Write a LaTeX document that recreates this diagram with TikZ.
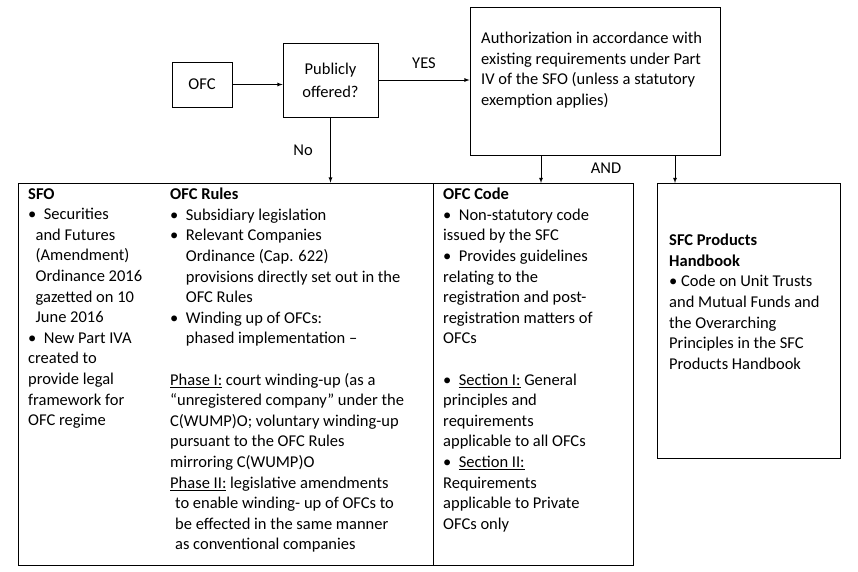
\documentclass[tikz,border=0pt]{standalone}
\usepackage{fontspec}
\setmainfont{Carlito}
\usetikzlibrary{positioning}
\tikzset{
  box/.style={draw,thick,align=center,inner sep=0pt},
  txt/.style={anchor=north west,align=left,inner sep=0pt,font=\fontsize{16.5}{20.6}\selectfont},
  lbl/.style={font=\fontsize{16.5}{20}\selectfont},
  arr/.style={thick,-latex}
}
\begin{document}
\begin{tikzpicture}[x=1pt,y=-1pt]
  \useasboundingbox (0,0) rectangle (858,571);
  \node[box,minimum width=60,minimum height=45,lbl] (ofc) at (202,84.5) {OFC};
  \node[box,minimum width=95,minimum height=74,font=\fontsize{16.5}{23}\selectfont] (pub) at (330.5,80) {Publicly\\offered?};
  \node[box,minimum width=250,minimum height=148] (auth) at (595,81) {};
  \node[txt] at (481,32) {Authorization in accordance with\\existing requirements under Part\\IV of the SFO (unless a statutory\\exemption applies)};
  \node[box,minimum width=615,minimum height=382] (main) at (325.5,374) {};
  \node[box,minimum width=183,minimum height=275] (sfc) at (748.5,320.5) {};
  \draw[thick] (433,183) -- (433,565);

  \draw[arr] (ofc.east) -- (pub.west |- ofc.east);
  \draw[arr] (pub.east) -- (auth.west |- pub.east) node[midway,above=8pt,lbl] {YES};
  \draw[arr] (pub.south) -- (pub.south |- main.north) node[midway,left=14pt,lbl] {No};
  \draw[arr] (541,155) -- (541,183);
  \draw[arr] (675,155) -- (675,183);
  \node[lbl] (and) at (606,168) {AND};

  \node[txt] (sfo) at (28,188) {\textbf{SFO}\\
    • \ Securities\\
    \ \ and Futures\\
    \ \ (Amendment)\\
    \ \ Ordinance 2016\\
    \ \ gazetted on 10\\
    \ \ June 2016\\
    • \ New Part IVA\\
    created to\\
    provide legal\\
    framework for\\
    OFC regime};
  \node[txt] (rules) at (170,188) {\textbf{OFC Rules}\\
    • \ Subsidiary legislation\\
    • \ Relevant Companies\\
    \hspace*{0.95em}Ordinance (Cap. 622)\\
    \hspace*{0.95em}provisions directly set out in the\\
    \hspace*{0.95em}OFC Rules\\
    • \ Winding up of OFCs:\\
    \hspace*{0.95em}phased implementation --\\[20.6pt]
    \underline{Phase I:} court winding-up (as a\\
    “unregistered company” under the\\
    C(WUMP)O; voluntary winding-up\\
    pursuant to the OFC Rules\\
    mirroring C(WUMP)O\\
    \underline{Phase II:} legislative amendments\\
    \hspace*{0.3em}to enable winding- up of OFCs to\\
    \hspace*{0.3em}be effected in the same manner\\
    \hspace*{0.3em}as conventional companies};
  \node[txt] (code) at (443,188) {\textbf{OFC Code}\\
    • \ Non-statutory code\\
    issued by the SFC\\
    • \ Provides guidelines\\
    relating to the\\
    registration and post-\\
    registration matters of\\
    OFCs\\[20.6pt]
    • \ \underline{Section I:} General\\
    principles and\\
    requirements\\
    applicable to all OFCs\\
    • \ \underline{Section II:}\\
    Requirements\\
    applicable to Private\\
    OFCs only};
  \node[txt] (hb) at (669,234) {\textbf{SFC Products}\\
    \textbf{Handbook}\\
    • Code on Unit Trusts\\
    and Mutual Funds and\\
    the Overarching\\
    Principles in the SFC\\
    Products Handbook};
\end{tikzpicture}
\end{document}
